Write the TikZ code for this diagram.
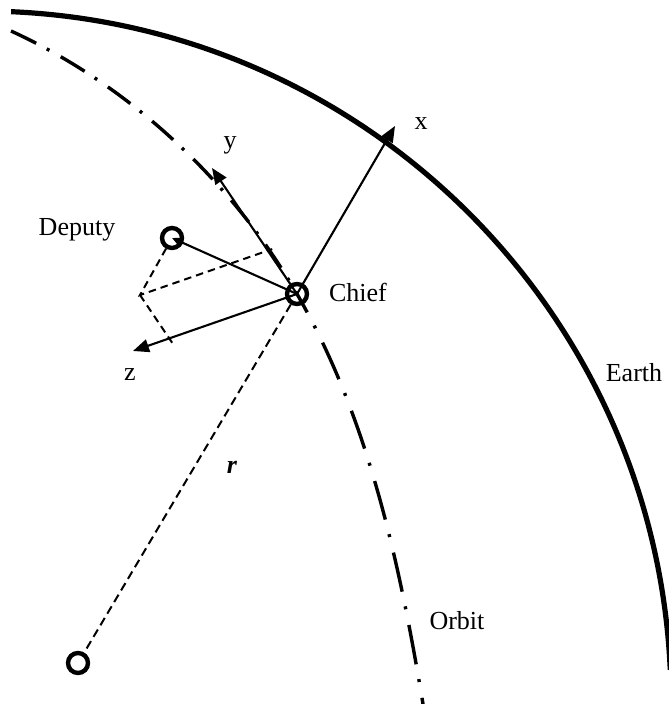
\documentclass[tikz,border=0pt]{standalone}
\usepackage{fontspec}
\setmainfont{Liberation Serif}
\usetikzlibrary{arrows.meta,calc}
\begin{document}
\begin{tikzpicture}[x=1pt,y=1pt,
  ring/.style={circle,draw,line width=4.4pt,minimum size=20pt,inner sep=0pt},
  axis/.style={line width=2.1pt,-{Triangle[length=16pt,width=13pt]}},
  relvec/.style={line width=2.1pt,-{Triangle[length=9pt,width=8pt]}},
  proj/.style={line width=2pt,dash pattern=on 7.5pt off 5pt},
  radial/.style={line width=2pt,dash pattern=on 8.5pt off 5pt},
  lbl/.style={inner sep=0pt,font=\fontsize{26}{30}\selectfont},
  earthline/.style={line width=5.2pt},
  orbitup/.style={line width=3.4pt,dash pattern=on 28pt off 12pt on 3pt off 13pt},
  orbitdown/.style={line width=3.4pt,dash pattern=on 40pt off 15pt on 3pt off 16pt,dash phase=19pt}]
\useasboundingbox (0,0) rectangle (669,704);

% Earth
\draw[earthline] (-19,3) ++(87.5:690) arc[start angle=87.5,end angle=2.6,radius=690];

% bodies
\node[ring] (C) at (297,410) {};
\node[ring] (D) at (172,466) {};
\node[ring] (O) at (78,41) {};

% orbit
\draw[orbitup] (11,673) .. controls (129,619) and (232,523) .. (C.center);
\draw[orbitdown] (C.center) .. controls (368.5,286) and (399.5,141) .. (423,0);

% axis tips
\coordinate (xtip) at (395,578);
\coordinate (ytip) at (212,536);
\coordinate (ztip) at (133,353);

\draw[axis] (C.center) -- (xtip);
\draw[axis] (C.center) -- (ytip);
\draw[axis] (C.center) -- (ztip);
\draw[relvec] (C.center) -- (D.center);

% projections
\coordinate (Y) at ($(C.center)!0.344!(ytip)$);
\coordinate (Z) at ($(C.center)!0.779!(ztip)$);
\coordinate (P) at ($(Y)+(Z)-(C.center)$);
\coordinate (Yt) at ($(P)!1.035!(Y)$);
\coordinate (Zt) at ($(P)!1.1!(Z)$);
\draw[proj] (D) -- (P) -- (Yt);
\draw[proj] (P) -- (Zt);

% radius vector
\draw[radial] (C) -- (O);

% labels
\node[lbl] (lx) at (421,580) {x};
\node[lbl] (ly) at (230,559) {y};
\node[lbl] (lz) at (130,329) {z};
\node[lbl] (ldep) at (77,474) {Deputy};
\node[lbl] (lchief) at (358,412) {Chief};
\node[lbl] (learth) at (634,331) {Earth};
\node[lbl] (lorbit) at (457,83) {Orbit};
\node[lbl] (lr) at (232,237) {\textbf{\textit{r}}};
\end{tikzpicture}
\end{document}
